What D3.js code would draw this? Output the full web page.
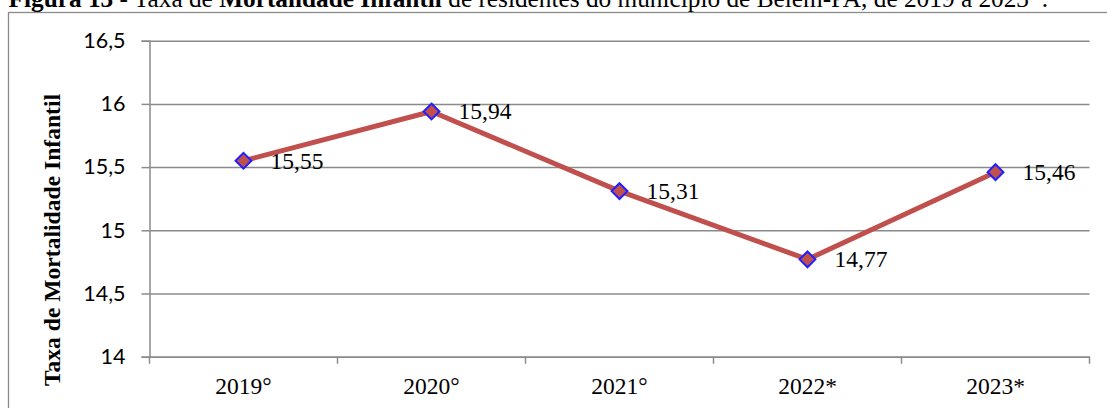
<!DOCTYPE html>
<html>
<head>
<meta charset="utf-8">
<script src="https://cdn.jsdelivr.net/npm/d3@7"></script>
<style>
  body { margin: 0; background: #fff; }
  svg { display: block; }
</style>
</head>
<body>
<div id="wrapper"></div>
<script>
// data
const years = ["2019°", "2020°", "2021°", "2022*", "2023*"]
const rates = [15.55, 15.94, 15.31, 14.77, 15.46]
const yTicks = [14, 14.5, 15, 15.5, 16, 16.5]

const fmt = d => String(d).replace(".", ",")
const serif = "Liberation Serif, Times New Roman, serif"
const sans = "Lato, Carlito, Calibri, sans-serif"

const width = 1107
const height = 408
const plot = { left: 149.5, right: 1089.5, top: 40.7, bottom: 356.7 }

const svg = d3.select("#wrapper")
    .append("svg")
    .attr("width", width)
    .attr("height", height)

// chart border (cut off at right and bottom)
svg.append("rect")
    .attr("x", 8.5)
    .attr("y", 12.5)
    .attr("width", 1300)
    .attr("height", 600)
    .attr("fill", "none")
    .attr("stroke", "#8a8a8a")
    .attr("stroke-width", 1.3)

// title, partly outside the picture
const title = svg.append("text")
    .attr("x", 1048)
    .attr("y", 7)
    .attr("text-anchor", "end")
    .attr("font-family", serif)
    .attr("font-size", 25.3)
    .attr("fill", "#000")
title.append("tspan").attr("font-weight", "bold").text("Figura 13")
title.append("tspan").text(" - Taxa de ")
title.append("tspan").attr("font-weight", "bold").text("Mortalidade Infantil")
title.append("tspan").text(" de residentes do município de Belém-PA, de 2019 a 2023*.")

// scales
const xScale = d3.scaleBand()
    .domain(years)
    .range([plot.left, plot.right])
const yScale = d3.scaleLinear()
    .domain([14, 16.5])
    .range([plot.bottom, plot.top])

// gridlines
svg.append("g")
    .attr("transform", `translate(${plot.left},0)`)
    .call(d3.axisLeft(yScale).tickValues(yTicks).tickSize(-(plot.right - plot.left)).tickFormat(""))
    .call(g => g.select(".domain").remove())
    .call(g => g.selectAll("line").attr("stroke", "#8a8a8a").attr("stroke-width", 1.5))

// y axis
svg.append("g")
    .attr("transform", `translate(${plot.left},0)`)
    .call(d3.axisLeft(yScale).tickValues(yTicks).tickSize(8).tickPadding(16).tickFormat(fmt))
    .attr("font-family", sans)
    .attr("font-size", 21.5)
    .call(g => g.select(".domain").attr("stroke", "#8a8a8a").attr("stroke-width", 1.5))
    .call(g => g.selectAll("line").attr("stroke", "#8a8a8a").attr("stroke-width", 1.5))
    .call(g => g.selectAll("text").attr("fill", "#000"))

// x axis: labels at centers, ticks at category boundaries
const xAxis = svg.append("g")
    .attr("transform", `translate(0,${plot.bottom})`)
    .call(d3.axisBottom(xScale).tickSize(0).tickPadding(21))
    .attr("font-family", serif)
    .attr("font-size", 23.5)
    .call(g => g.select(".domain").attr("stroke", "#8a8a8a").attr("stroke-width", 1.5))
    .call(g => g.selectAll("text").attr("fill", "#000"))
const bounds = years.map(d => xScale(d)).concat([xScale.range()[1]])
xAxis.selectAll(".bound")
    .data(bounds)
    .join("line")
    .attr("class", "bound")
    .attr("x1", d => d)
    .attr("x2", d => d)
    .attr("y1", 0)
    .attr("y2", 7)
    .attr("stroke", "#8a8a8a")
    .attr("stroke-width", 1.5)

// y axis title
svg.append("text")
    .attr("transform", `translate(60,240) rotate(-90)`)
    .attr("text-anchor", "middle")
    .attr("font-family", serif)
    .attr("font-size", 23.6)
    .attr("font-weight", "bold")
    .text("Taxa de Mortalidade Infantil")

// line
const cx = (d, i) => xScale(years[i]) + xScale.bandwidth() / 2
const line = d3.line()
    .x(cx)
    .y(d => yScale(d))
svg.append("path")
    .datum(rates)
    .attr("d", line)
    .attr("fill", "none")
    .attr("stroke", "#c0504d")
    .attr("stroke-width", 5)
    .attr("stroke-linejoin", "round")

// markers
svg.selectAll(".marker")
    .data(rates)
    .join("path")
    .attr("class", "marker")
    .attr("transform", (d, i) => `translate(${cx(d, i)},${yScale(d)})`)
    .attr("d", d3.symbol(d3.symbolDiamond2, 160))
    .attr("fill", "#c0504d")
    .attr("stroke", "#1f1fff")
    .attr("stroke-width", 2)

// data labels
svg.selectAll(".label")
    .data(rates)
    .join("text")
    .attr("class", "label")
    .attr("x", (d, i) => cx(d, i) + 27)
    .attr("y", d => yScale(d) + 8)
    .text(fmt)
    .attr("fill", "#000")
    .attr("font-family", serif)
    .attr("font-size", 23.5)
</script>
</body>
</html>
